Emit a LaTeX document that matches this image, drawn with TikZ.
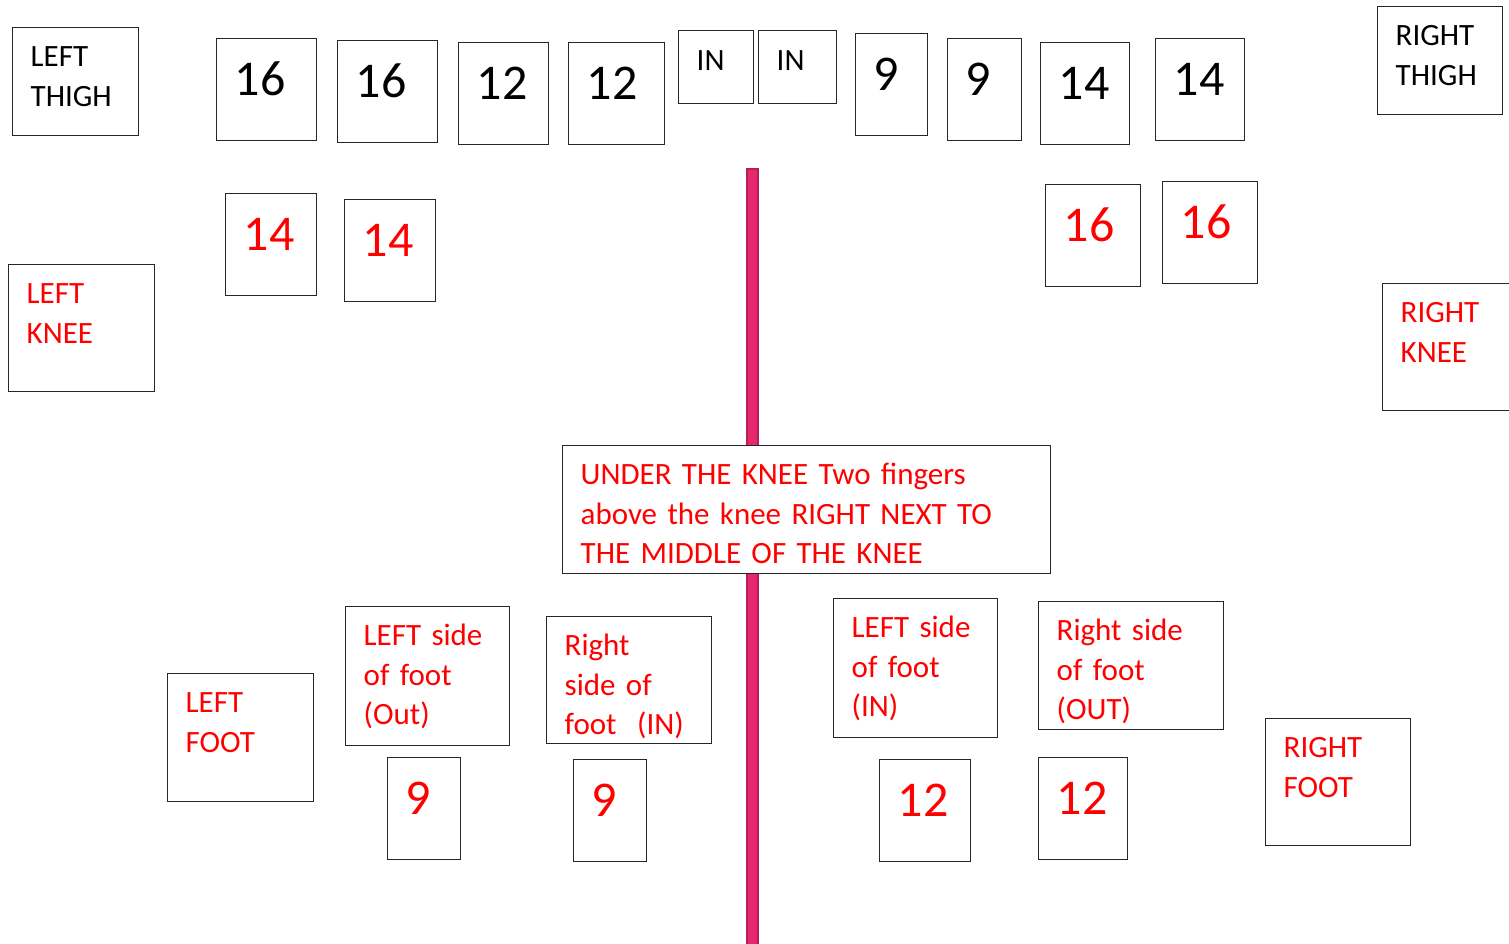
\documentclass[tikz,border=0pt]{standalone}
\usepackage{fontspec}
\setmainfont{Carlito}
\usetikzlibrary{positioning}
\definecolor{BoxLine}{HTML}{262626}
\definecolor{SpineFill}{HTML}{E6286C}
\definecolor{SpineEdge}{HTML}{B81E57}
\newcommand{\lblfont}{\fontsize{31}{39.3}\selectfont}
\newcommand{\numfont}{\fontsize{50}{60}\selectfont}
\tikzset{
  partbox/.style={draw=BoxLine, line width=1.4pt, fill=white, anchor=north west,
                  align=left, inner xsep=18pt, inner ysep=0pt, text height=39pt,
                  font=\lblfont},
  notebox/.style={partbox, text=red},
  numbox/.style={draw=BoxLine, line width=1.4pt, fill=white, anchor=north west,
                 align=left, inner xsep=18pt, inner ysep=0pt, text height=57pt,
                 text depth=45pt, font=\numfont},
  rednum/.style={numbox, text=red},
  inbox/.style={numbox, font=\lblfont, text height=40pt, text depth=33pt},
  sz/.style 2 args={text width=#1, text depth=#2},
  spine/.style={fill=SpineFill, draw=SpineEdge, line width=1.5pt}
}

\begin{document}
\begin{tikzpicture}[x=1pt, y=-1pt]
  \useasboundingbox (0,0) rectangle (1509,943);

  % centre line
  \draw[spine] (747,169) rectangle (758,950);

  % thighs
  \node[partbox, sz={90pt}{69pt}]  (lthigh) at (12,27)   {LEFT\\THIGH};
  \node[partbox, sz={89pt}{69pt}]  (rthigh) at (1377,6)  {RIGHT\\THIGH};

  \node[numbox, text width=64pt] (lt16a) at (216,38)  {16};
  \node[numbox, text width=64pt] (lt16b) at (337,40)  {16};
  \node[numbox, text width=54pt] (lt12a) at (458,42)  {12};
  \node[numbox, text width=60pt] (lt12b) at (568,42)  {12};
  \node[inbox,  text width=39pt] (inA)   at (678,30)  {IN};
  \node[inbox,  text width=42pt] (inB)   at (758,30)  {IN};
  \node[numbox, text width=36pt] (rt9a)  at (855,33)  {9};
  \node[numbox, text width=38pt] (rt9b)  at (947,38)  {9};
  \node[numbox, text width=53pt] (rt14a) at (1040,42) {14};
  \node[numbox, text width=53pt] (rt14b) at (1155,38) {14};

  % knees
  \node[notebox, sz={110pt}{88pt}] (lknee) at (8,264)    {LEFT\\KNEE};
  \node[notebox, sz={110pt}{88pt}] (rknee) at (1382,283) {RIGHT\\KNEE};

  \node[rednum, text width=55pt] (lk14a) at (225,193)  {14};
  \node[rednum, text width=55pt] (lk14b) at (344,199)  {14};
  \node[rednum, text width=59pt] (rk16a) at (1045,184) {16};
  \node[rednum, text width=59pt] (rk16b) at (1162,181) {16};

  \node[notebox, sz={452pt}{89pt}] (note) at (562,445)
    {UNDER THE KNEE Two fingers\\above the knee RIGHT NEXT TO\\THE MIDDLE OF THE KNEE};

  % feet
  \node[notebox, sz={110pt}{89pt}]  (lfoot)    at (167,673)  {LEFT\\FOOT};
  \node[notebox, sz={128pt}{100pt}] (lfootout) at (345,606)  {LEFT side\\of foot\\(Out)};
  \node[notebox, sz={129pt}{88pt}]  (rfootin)  at (546,616)  {Right\\side of\\foot~ (IN)};
  \node[notebox, sz={128pt}{100pt}] (lfootin)  at (833,598)  {LEFT side\\of foot\\(IN)};
  \node[notebox, sz={149pt}{89pt}]  (rfootout) at (1038,601) {Right side\\of foot\\(OUT)};
  \node[notebox, sz={109pt}{88pt}]  (rfoot)    at (1265,718) {RIGHT\\FOOT};

  \node[rednum, text width=37pt] (lf9a)  at (387,757)  {9};
  \node[rednum, text width=37pt] (lf9b)  at (573,759)  {9};
  \node[rednum, text width=55pt] (rf12a) at (879,759)  {12};
  \node[rednum, text width=53pt] (rf12b) at (1038,757) {12};
\end{tikzpicture}
\end{document}
